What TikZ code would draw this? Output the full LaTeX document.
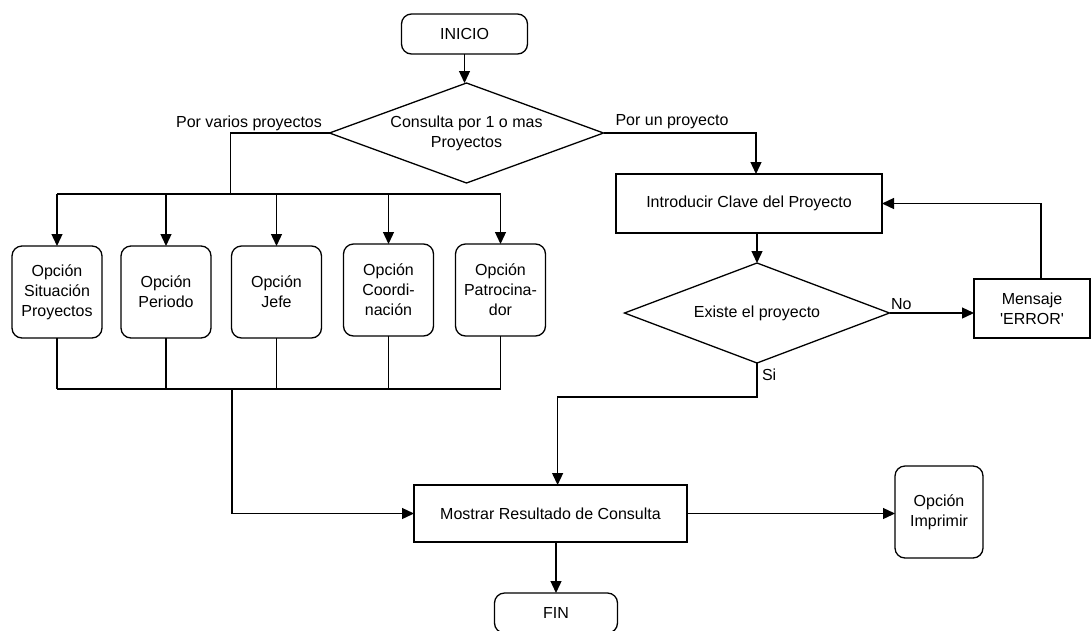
\documentclass[tikz,border=0pt]{standalone}
\usepackage{fontspec}
\setmainfont{Liberation Sans}
\usetikzlibrary{shapes.geometric,arrows.meta}
\begin{document}
\begin{tikzpicture}[x=1pt,y=-1pt,
  font=\fontsize{16}{20}\selectfont,
  line width=1.3pt,
  every node/.style={inner sep=0pt, outer sep=0pt},
  flow/.style={-{Triangle[length=12pt,width=11pt]}},
  procbox/.style={draw, rectangle, align=center},
  optbox/.style={draw, rectangle, rounded corners=10pt, align=center},
  decision/.style={draw, diamond, align=center},
  tag/.style={inner sep=0pt}]
\useasboundingbox (0,0) rectangle (1092,630);
\clip (0,0) rectangle (1092,630);

% start and first decision
\node[optbox, minimum width=126pt, minimum height=40pt] (inicio) at (464.5,34) {INICIO};
\node[decision, aspect=2.74, minimum width=274pt, minimum height=100pt] (q1) at (466.5,133) {Consulta por 1 o mas\\Proyectos};

% option boxes (several projects)
\node[optbox, minimum width=90pt, minimum height=92pt] (o1) at (57,292) {Opción\\Situación\\Proyectos};
\node[optbox, minimum width=90pt, minimum height=92pt] (o2) at (166,292) {Opción\\Periodo};
\node[optbox, minimum width=90pt, minimum height=92pt] (o3) at (276.5,292) {Opción\\Jefe};
\node[optbox, minimum width=90pt, minimum height=92pt] (o4) at (388.5,290) {Opción\\Coordi-\\nación};
\node[optbox, minimum width=90pt, minimum height=92pt] (o5) at (500.5,290) {Opción\\Patrocina-\\dor};

% single project branch
\node[procbox, minimum width=266pt, minimum height=59pt] (intro) at (749,203.5) {Introducir Clave del Proyecto};
\node[decision, aspect=2.65, minimum width=265pt, minimum height=100pt] (q2) at (757,313) {Existe el proyecto};
\node[procbox, minimum width=116pt, minimum height=59pt] (mensaje) at (1032,308.5) {Mensaje\\\textquotesingle ERROR\textquotesingle};

% results
\node[procbox, minimum width=273pt, minimum height=57pt] (mostrar) at (550.5,513.5) {Mostrar Resultado de Consulta};
\node[optbox, minimum width=88pt, minimum height=92pt] (imprimir) at (939,512) {Opción\\Imprimir};
\node[optbox, minimum width=123pt, minimum height=40pt] (fin) at (556,613) {FIN};

% branch labels
\node[tag, anchor=south] (lvarios) at (249,131) {Por varios proyectos};
\node[tag, anchor=south] (lun) at (672,129) {Por un proyecto};
\node[tag, anchor=south west] (lno) at (891,310) {No};
\node[tag, anchor=west] (lsi) at (762,375) {Si};

% junction points
\coordinate (busT) at (230.5,194);
\coordinate (busB) at (232,389);
\coordinate (unx) at (756,0);
\coordinate (loopx) at (1041,0);
\coordinate (siy) at (557.6,397);

% connectors
\draw[flow] (inicio.south) -- (inicio.south |- q1.north);
\draw (q1.west) -| (busT);
\draw (o1.north |- busT) -- (o5.north |- busT);
\foreach \o in {o1,o2,o3,o4,o5} {
  \draw[flow] (\o.north |- busT) -- (\o.north);
  \draw (\o.south) -- (\o.south |- busB);
}
\draw (o1.south |- busB) -- (o5.south |- busB);
\draw[flow] (busB) |- (mostrar.west);

\draw[flow] (q1.east) -| (unx |- intro.north);
\draw[flow] (intro.south -| q2.north) -- (q2.north);
\draw[flow] (q2.east) -- (q2.east -| mensaje.west);
\draw[flow] (loopx |- mensaje.north) |- (intro.east);
\draw[flow] (q2.south) |- (siy) -- (siy |- mostrar.north);

\draw[flow] (mostrar.east) -- (mostrar.east -| imprimir.west);
\draw[flow] (mostrar.south -| fin.north) -- (fin.north);
\end{tikzpicture}
\end{document}
